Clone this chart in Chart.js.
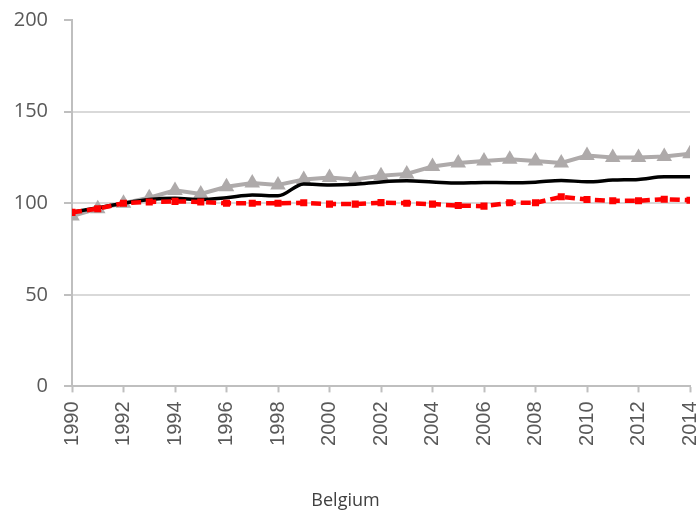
<!DOCTYPE html>
<html>
<head>
<meta charset="utf-8">
<script src="https://cdn.jsdelivr.net/npm/chart.js@4"></script>
<style>
  html, body { margin: 0; padding: 0; background: #fff; }
  #wrap { width: 699px; height: 517px; }
</style>
</head>
<body>
<div id="wrap"><canvas id="chart" width="699" height="517"></canvas></div>
<script>
// years on the x axis
const years = [1990, 1991, 1992, 1993, 1994, 1995, 1996, 1997, 1998, 1999, 2000, 2001, 2002,
  2003, 2004, 2005, 2006, 2007, 2008, 2009, 2010, 2011, 2012, 2013, 2014];

// grey series with triangles
const greySeries = [93, 97, 100, 103, 107, 105, 109, 111, 110, 113, 114, 113, 115,
  116, 120, 122, 123, 124, 123, 122, 126, 125, 125, 125.5, 127];

// black smooth series
const blackSeries = [95, 97.5, 100, 102, 102.7, 102, 103, 104.5, 104, 110.5, 110, 110.4, 111.6,
  112.2, 111.6, 111, 111.3, 111.2, 111.5, 112.4, 111.7, 112.6, 113, 114.4, 114.4];

// red dashed series with squares
const redSeries = [95, 97, 100, 100.7, 101, 100.7, 100, 100, 100, 100.2, 99.5, 99.5, 100.3,
  100, 99.5, 98.7, 98.4, 100.2, 100.2, 103.5, 102, 101.3, 101.3, 102.2, 101.6];

const yTicks = [0, 50, 100, 150, 200];
const chartTitle = "Belgium";

const toPoints = (vals) => vals.map((v, i) => ({ x: years[i], y: v }));

const axisGrey = "#bfbfbf";
const gridGrey = "#d9d9d9";
const labelGrey = "#595959";

new Chart(document.getElementById("chart"), {
  type: "line",
  data: {
    datasets: [
      {
        label: "grey",
        data: toPoints(greySeries),
        order: 3,
        borderColor: "#aeaaaa",
        backgroundColor: "#aeaaaa",
        borderWidth: 4,
        pointStyle: "triangle",
        pointRadius: 9,
        pointBorderWidth: 0,
        tension: 0,
      },
      {
        label: "black",
        data: toPoints(blackSeries),
        order: 2,
        borderColor: "#000000",
        borderWidth: 3.5,
        pointRadius: 0,
        tension: 0.4,
        cubicInterpolationMode: "monotone",
      },
      {
        label: "red",
        data: toPoints(redSeries),
        order: 1,
        borderColor: "#ff0000",
        backgroundColor: "#ff0000",
        borderWidth: 4.5,
        borderDash: [10, 5],
        pointStyle: "rect",
        pointRadius: 5,
        pointBorderWidth: 0,
        tension: 0,
      },
    ],
  },
  options: {
    responsive: false,
    animation: false,
    layout: { padding: { top: 20, right: 8, left: 0, bottom: 0 } },
    plugins: {
      legend: { display: false },
      tooltip: { enabled: false },
      title: {
        display: true,
        text: chartTitle,
        position: "bottom",
        color: "#404040",
        font: { family: "'Open Sans'", size: 18, weight: "normal" },
        padding: { top: 14, bottom: 5 },
      },
    },
    scales: {
      x: {
        type: "linear",
        min: years[0],
        max: years[years.length - 1],
        afterFit: (s) => {
          s.height = 90;
          s.paddingLeft = 0;
          s.paddingRight = 0;
        },
        afterBuildTicks: (s) => {
          s.ticks = years.filter((y) => y % 2 === 0).map((y) => ({ value: y }));
        },
        border: { color: axisGrey, width: 2 },
        grid: {
          drawOnChartArea: false,
          drawTicks: true,
          tickLength: 6,
          tickColor: axisGrey,
          tickWidth: 2,
        },
        ticks: {
          color: labelGrey,
          font: { family: "'Liberation Sans'", size: 20 },
          maxRotation: 90,
          minRotation: 90,
          padding: 9,
          callback: (v) => String(v),
        },
      },
      y: {
        min: 0,
        max: 200,
        afterFit: (s) => {
          s.width = 72;
          s.paddingTop = 0;
          s.paddingBottom = 0;
        },
        afterBuildTicks: (s) => {
          s.ticks = yTicks.map((v) => ({ value: v }));
        },
        border: { color: axisGrey, width: 2 },
        grid: {
          color: (ctx) => (ctx.tick && ctx.tick.value === 200 ? "rgba(0,0,0,0)" : gridGrey),
          lineWidth: 2,
          drawTicks: true,
          tickLength: 8,
          tickColor: axisGrey,
          tickWidth: 2,
        },
        ticks: {
          color: labelGrey,
          font: { family: "'Open Sans'", size: 20 },
          padding: 16,
        },
      },
    },
  },
});
</script>
</body>
</html>
